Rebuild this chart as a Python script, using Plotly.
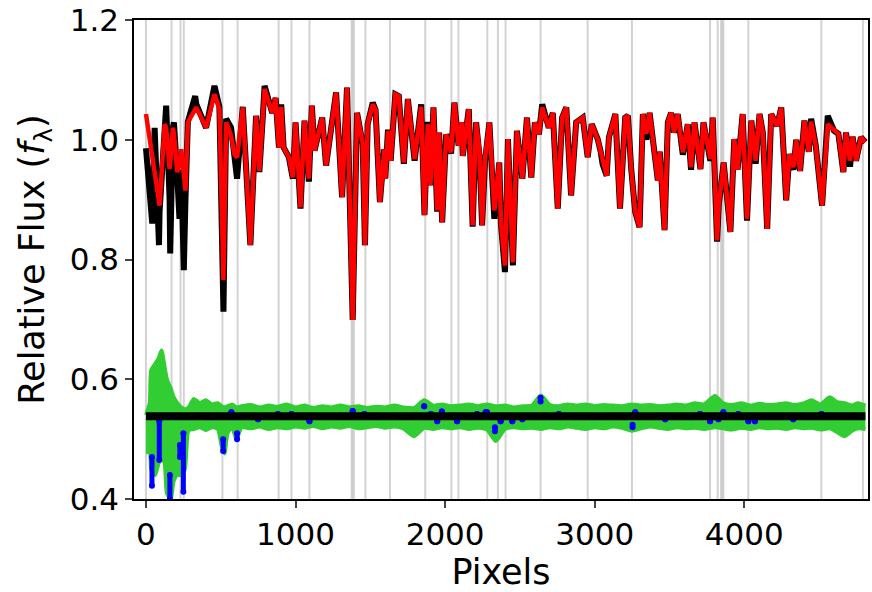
import plotly.graph_objects as go

# ---- data ----
px = [0, 42, 58, 87, 91, 125, 135, 158, 162, 180, 187, 209, 224, 236, 253, 264, 280, 329, 336, 369,
      402, 458, 491, 518, 536, 569, 591, 609, 647, 698, 736, 758, 780, 793, 844, 867, 889, 904, 920, 955,
      982, 1000, 1033, 1060, 1089, 1109, 1127, 1156, 1178, 1204, 1238, 1271, 1311, 1344, 1382, 1411, 1449, 1464, 1482, 1516,
      1535, 1564, 1593, 1600, 1618, 1636, 1667, 1690, 1724, 1751, 1796, 1840, 1862, 1884, 1902, 1922, 1947, 1960, 1980, 2007,
      2040, 2062, 2090, 2111, 2118, 2158, 2184, 2207, 2230, 2247, 2267, 2296, 2329, 2362, 2373, 2400, 2420, 2453, 2480, 2516,
      2547, 2576, 2600, 2627, 2649, 2693, 2720, 2753, 2782, 2810, 2842, 2876, 2920, 2953, 2980, 3020, 3040, 3053, 3080, 3095,
      3138, 3169, 3204, 3222, 3244, 3271, 3300, 3322, 3345, 3367, 3422, 3435, 3467, 3489, 3511, 3530, 3555, 3589, 3622, 3644,
      3667, 3707, 3727, 3773, 3789, 3818, 3829, 3862, 3907, 3933, 3955, 3989, 4018, 4047, 4076, 4102, 4124, 4153, 4180, 4220,
      4247, 4280, 4302, 4329, 4347, 4373, 4402, 4431, 4447, 4478, 4520, 4558, 4600, 4629, 4662, 4680, 4707, 4724, 4747, 4780,
      4809]

model = [1.043, 0.970, 0.955, 0.895, 0.890, 1.026, 1.020, 0.951, 0.960, 1.020, 1.010, 0.946, 0.960, 0.984, 0.940, 0.915, 1.029, 1.050, 1.054, 1.037,
         1.020, 1.076, 1.051, 0.766, 1.029, 1.007, 0.976, 0.970, 1.054, 0.824, 1.040, 0.948, 1.034, 1.085, 1.045, 1.070, 0.987, 1.055, 0.987, 0.971,
         0.937, 1.029, 0.887, 1.032, 0.935, 1.057, 0.982, 1.015, 1.037, 0.957, 1.023, 1.079, 0.904, 1.087, 0.699, 1.045, 0.995, 0.824, 1.026, 1.059,
         1.050, 0.896, 0.984, 0.935, 1.015, 0.965, 1.076, 1.073, 0.962, 1.068, 0.968, 1.055, 0.874, 1.026, 0.924, 1.054, 0.882, 1.012, 0.862, 1.009,
         0.979, 1.062, 0.990, 1.029, 0.973, 1.051, 0.857, 1.029, 0.980, 0.857, 0.970, 1.029, 0.882, 0.962, 0.862, 0.790, 1.001, 0.795, 1.015, 0.935,
         1.037, 0.937, 1.029, 1.009, 1.054, 1.020, 1.045, 0.885, 1.037, 1.054, 0.907, 1.029, 1.037, 0.971, 1.026, 1.001, 0.980, 0.965, 0.940, 1.004,
         1.043, 0.885, 1.037, 1.040, 0.951, 0.879, 0.854, 1.043, 1.010, 1.045, 0.932, 0.980, 0.849, 1.029, 1.045, 1.012, 1.043, 0.979, 1.026, 0.954,
         1.029, 0.951, 1.029, 0.968, 1.037, 0.832, 0.890, 0.962, 0.846, 1.001, 0.950, 1.043, 0.868, 1.032, 0.965, 1.043, 1.012, 0.851, 1.043, 1.023,
         1.054, 0.899, 0.976, 0.954, 1.000, 0.948, 1.032, 0.980, 1.030, 0.990, 0.890, 1.026, 1.015, 1.010, 0.946, 1.012, 0.965, 1.005, 0.965, 1.004,
         0.996]

observed = [0.986, 0.860, 1.020, 0.824, 0.880, 1.045, 1.057, 0.900, 0.810, 1.020, 1.029, 0.940, 0.868, 0.950, 0.782, 0.900, 1.030, 1.073, 1.060, 1.040,
            1.020, 1.090, 1.055, 0.713, 1.035, 1.020, 0.970, 0.935, 1.055, 0.824, 1.040, 0.946, 1.034, 1.090, 1.045, 1.070, 0.987, 1.059, 0.987, 0.971,
            0.935, 1.029, 0.885, 1.032, 0.930, 1.057, 0.982, 1.012, 1.037, 0.957, 1.023, 1.079, 0.904, 1.087, 0.699, 1.045, 0.993, 0.824, 1.026, 1.062,
            1.050, 0.896, 0.984, 0.935, 1.017, 0.965, 1.076, 1.073, 0.960, 1.068, 0.965, 1.059, 0.874, 1.030, 0.924, 1.054, 0.880, 1.012, 0.862, 1.009,
            0.977, 1.062, 0.990, 1.029, 0.973, 1.051, 0.855, 1.029, 0.973, 0.857, 0.965, 1.029, 0.868, 0.962, 0.860, 0.779, 1.001, 0.790, 1.015, 0.935,
            1.037, 0.937, 1.029, 1.009, 1.059, 1.020, 1.045, 0.885, 1.037, 1.054, 0.907, 1.029, 1.037, 0.971, 1.026, 1.001, 0.980, 0.959, 0.940, 1.004,
            1.043, 0.885, 1.037, 1.040, 0.951, 0.879, 0.854, 1.043, 1.000, 1.045, 0.932, 0.980, 0.849, 1.029, 1.045, 1.012, 1.043, 0.975, 1.026, 0.950,
            1.029, 0.951, 1.029, 0.965, 1.037, 0.830, 0.890, 0.962, 0.846, 1.001, 0.950, 1.043, 0.865, 1.032, 0.960, 1.043, 1.012, 0.851, 1.043, 1.023,
            1.054, 0.899, 0.976, 0.950, 1.000, 0.948, 1.032, 0.980, 1.035, 0.990, 0.890, 1.040, 1.015, 1.010, 0.946, 1.012, 0.955, 1.005, 0.965, 1.004,
            0.996]

masked_px = [0, 171, 231, 253, 511, 613, 887, 973, 1093, 1375, 1382, 1390, 1467, 1631, 1867, 2042, 2089,
             2282, 2353, 2404, 2638, 2953, 3249, 3771, 3822, 3845, 3853, 3860, 4027, 4515, 4793]

resid_px = [0, 25, 35, 60, 85, 104, 125, 140, 165, 185, 210, 235, 260, 285, 320, 360, 400, 440, 480, 505,
            525, 545, 575, 605, 640, 700, 760, 820, 880, 940, 1000, 1060, 1120, 1180, 1240, 1300, 1360, 1420, 1480, 1540,
            1600, 1660, 1720, 1793, 1860, 1920, 1980, 2040, 2100, 2160, 2220, 2280, 2338, 2400, 2460, 2520, 2580, 2640, 2700, 2760,
            2820, 2880, 2940, 3000, 3060, 3120, 3180, 3249, 3310, 3370, 3430, 3490, 3550, 3610, 3670, 3730, 3804, 3860, 3920, 3980,
            4040, 4100, 4160, 4220, 4280, 4340, 4400, 4449, 4510, 4571, 4620, 4671, 4720, 4760, 4810]
resid_hi = [0.540, 0.560, 0.615, 0.625, 0.635, 0.648, 0.620, 0.600, 0.585, 0.570, 0.560, 0.553, 0.550, 0.553, 0.567, 0.560, 0.565, 0.558, 0.560, 0.555,
            0.553, 0.555, 0.558, 0.553, 0.555, 0.557, 0.553, 0.556, 0.554, 0.558, 0.553, 0.556, 0.552, 0.555, 0.553, 0.556, 0.553, 0.555, 0.552, 0.554,
            0.553, 0.556, 0.553, 0.552, 0.565, 0.556, 0.558, 0.555, 0.556, 0.558, 0.555, 0.558, 0.555, 0.556, 0.553, 0.555, 0.556, 0.573, 0.557, 0.555,
            0.558, 0.556, 0.558, 0.555, 0.557, 0.556, 0.555, 0.558, 0.556, 0.557, 0.555, 0.556, 0.558, 0.556, 0.560, 0.558, 0.572, 0.560, 0.557, 0.560,
            0.556, 0.559, 0.557, 0.558, 0.560, 0.557, 0.560, 0.565, 0.558, 0.570, 0.562, 0.560, 0.556, 0.560, 0.556]
resid_lo = [0.478, 0.478, 0.450, 0.440, 0.460, 0.470, 0.460, 0.410, 0.400, 0.430, 0.440, 0.440, 0.450, 0.515, 0.517, 0.520, 0.515, 0.520, 0.517, 0.490,
            0.476, 0.510, 0.520, 0.500, 0.520, 0.518, 0.521, 0.517, 0.520, 0.518, 0.521, 0.519, 0.522, 0.518, 0.521, 0.519, 0.522, 0.518, 0.520, 0.522,
            0.519, 0.521, 0.518, 0.505, 0.519, 0.517, 0.520, 0.518, 0.520, 0.517, 0.519, 0.516, 0.497, 0.517, 0.520, 0.518, 0.519, 0.517, 0.520, 0.518,
            0.521, 0.519, 0.517, 0.520, 0.518, 0.521, 0.519, 0.514, 0.518, 0.521, 0.519, 0.517, 0.520, 0.518, 0.519, 0.517, 0.520, 0.518, 0.516, 0.519,
            0.517, 0.520, 0.518, 0.519, 0.517, 0.520, 0.518, 0.519, 0.516, 0.518, 0.512, 0.505, 0.514, 0.518, 0.517]

# blue residual points at masked pixels: (pixel, top value, bottom value)
blue_px = [40, 89, 160, 227, 250, 516, 571, 609, 749, 882, 973, 1093, 1382, 1460, 1860, 1904, 1947, 1978, 2080, 2213,
           2271, 2280, 2333, 2371, 2449, 2516, 2638, 2760, 3253, 3271, 3471, 3704, 3771, 3827, 3860, 3960, 4027, 4071, 4327, 4516]
blue_top = [0.470, 0.530, 0.440, 0.490, 0.510, 0.500, 0.545, 0.510, 0.533, 0.542, 0.542, 0.530, 0.547, 0.542, 0.555, 0.542, 0.530, 0.546, 0.530, 0.542,
            0.545, 0.545, 0.520, 0.530, 0.530, 0.533, 0.569, 0.542, 0.524, 0.545, 0.533, 0.542, 0.530, 0.533, 0.545, 0.542, 0.530, 0.530, 0.533, 0.542]
blue_bot = [0.422, 0.465, 0.400, 0.470, 0.412, 0.480, 0.545, 0.500, 0.533, 0.542, 0.542, 0.530, 0.547, 0.542, 0.555, 0.542, 0.530, 0.546, 0.530, 0.542,
            0.545, 0.545, 0.513, 0.530, 0.530, 0.533, 0.563, 0.542, 0.520, 0.545, 0.533, 0.542, 0.530, 0.533, 0.545, 0.542, 0.530, 0.530, 0.533, 0.542]

zero_px = [0, 4810]
zero_level = [0.538, 0.538]

x_ticks = [0, 1000, 2000, 3000, 4000]
y_ticks = [0.4, 0.6, 0.8, 1.0, 1.2]

# ---- figure ----
fig = go.Figure()

mx, my = [], []
for m in masked_px:
    mx += [m, m, None]
    my += [0.4, 1.2, None]
fig.add_trace(go.Scatter(x=mx, y=my, mode="lines", line=dict(color="rgba(200,200,200,0.8)", width=2),
                         hoverinfo="skip", showlegend=False))

fig.add_trace(go.Scatter(x=resid_px, y=resid_lo, mode="lines", line=dict(color="#32cd32", width=4, shape="spline", smoothing=0.6),
                         showlegend=False))
fig.add_trace(go.Scatter(x=resid_px, y=resid_hi, mode="lines", fill="tonexty", fillcolor="#32cd32",
                         line=dict(color="#32cd32", width=4, shape="spline", smoothing=0.6), showlegend=False))

bx, by = [], []
for p, t, b in zip(blue_px, blue_top, blue_bot):
    bx += [p, p, None]
    by += [t, b, None]
fig.add_trace(go.Scatter(x=bx, y=by, mode="lines+markers", line=dict(color="#0000ff", width=5),
                         marker=dict(color="#0000ff", size=6), showlegend=False))

fig.add_trace(go.Scatter(x=zero_px, y=zero_level, mode="lines", line=dict(color="black", width=8),
                         showlegend=False))

fig.add_trace(go.Scatter(x=px, y=observed, mode="lines", line=dict(color="black", width=6),
                         showlegend=False))
fig.add_trace(go.Scatter(x=px, y=model, mode="lines", line=dict(color="#ff0000", width=4.5),
                         showlegend=False))

fig.update_layout(
    width=872, height=592,
    margin=dict(l=134, r=2, t=16, b=93),
    plot_bgcolor="white", paper_bgcolor="white",
    font=dict(family="DejaVu Sans", size=32, color="black"),
    showlegend=False,
)
fig.update_xaxes(range=[-80, 4827], tickvals=x_ticks, ticks="outside", ticklen=7, tickwidth=1.5,
                 showline=True, linecolor="black", linewidth=1.5, mirror=True, showgrid=False, zeroline=False,
                 tickfont=dict(size=31), ticklabeloverflow="allow",
                 title=dict(text="Pixels", standoff=8, font=dict(size=35)))
fig.update_yaxes(range=[0.4, 1.2], tickvals=y_ticks, tickformat=".1f", ticks="outside", ticklen=7, tickwidth=1.5,
                 showline=True, linecolor="black", linewidth=1.5, mirror=True, showgrid=False, zeroline=False,
                 tickfont=dict(size=31), ticklabeloverflow="allow",
                 title=dict(text="Relative Flux (<i>f</i><sub>λ</sub>)", standoff=14, font=dict(size=35)))

fig.write_html("out.html")
